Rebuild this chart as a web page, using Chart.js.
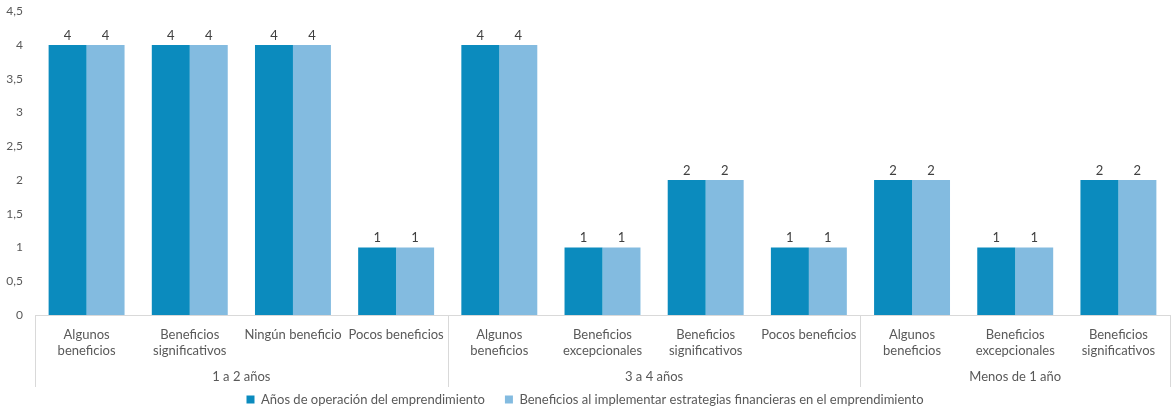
<!DOCTYPE html>
<html lang="es">
<head>
<meta charset="UTF-8">
<title>Años de operación y beneficios</title>
<style>
    html, body { margin: 0; padding: 0; background: #fff; }
    #wrap { width: 1172px; height: 408px; position: relative; }
</style>
</head>
<body>
<div id="wrap"><canvas id="chart"></canvas></div>
<script src="https://cdn.jsdelivr.net/npm/chart.js"></script>
<script>
// categories (two lines each) and their outer groups
const categories = [
    ['Algunos', 'beneficios'], ['Beneficios', 'significativos'], 'Ningún beneficio', 'Pocos beneficios',
    ['Algunos', 'beneficios'], ['Beneficios', 'excepcionales'], ['Beneficios', 'significativos'], 'Pocos beneficios',
    ['Algunos', 'beneficios'], ['Beneficios', 'excepcionales'], ['Beneficios', 'significativos']
];
const groups = ['1 a 2 años', '3 a 4 años', 'Menos de 1 año'];
const groupSizes = [4, 4, 3];

const seriesNames = [
    'Años de operación del emprendimiento',
    'Beneficios al implementar estrategias financieras en el emprendimiento'
];
const operacion = [4, 4, 4, 1, 4, 1, 2, 1, 2, 1, 2];
const beneficios = [4, 4, 4, 1, 4, 1, 2, 1, 2, 1, 2];

const yTicks = [0, 0.5, 1, 1.5, 2, 2.5, 3, 3.5, 4, 4.5];

const textColor = '#595959';
const lineColor = '#D9D9D9';
const fontFamily = 'Lato, "Noto Sans", sans-serif';

// value labels above each bar
const barLabels = {
    id: 'barLabels',
    afterDatasetsDraw(chart) {
        const ctx = chart.ctx;
        ctx.save();
        ctx.fillStyle = '#404040';
        ctx.font = '13px ' + fontFamily;
        ctx.textAlign = 'center';
        ctx.textBaseline = 'bottom';
        chart.data.datasets.forEach((ds, i) => {
            chart.getDatasetMeta(i).data.forEach((bar, j) => {
                ctx.fillText(String(ds.data[j]), bar.x, bar.y - 3);
            });
        });
        ctx.restore();
    }
};

// group separators and group names under the category labels
const groupAxis = {
    id: 'groupAxis',
    afterDraw(chart) {
        const ctx = chart.ctx;
        const x = chart.scales.x;
        const area = chart.chartArea;
        const top = area.bottom;
        const bottom = top + 72;
        ctx.save();
        ctx.strokeStyle = lineColor;
        ctx.lineWidth = 1;
        ctx.fillStyle = textColor;
        ctx.font = '13px ' + fontFamily;
        ctx.textAlign = 'center';
        ctx.textBaseline = 'middle';

        let start = 0;
        const edges = [area.left];
        groups.forEach((g, i) => {
            const end = start + groupSizes[i] - 1;
            const right = end === categories.length - 1
                ? area.right
                : (x.getPixelForValue(end) + x.getPixelForValue(end + 1)) / 2;
            const left = edges[edges.length - 1];
            edges.push(right);
            ctx.fillText(g, (left + right) / 2, top + 62);
            start = end + 1;
        });
        edges.forEach(e => {
            const px = Math.round(e) + 0.5;
            ctx.beginPath();
            ctx.moveTo(px, top);
            ctx.lineTo(px, bottom);
            ctx.stroke();
        });
        ctx.restore();
    }
};

new Chart(document.getElementById('chart'), {
    type: 'bar',
    data: {
        labels: categories,
        datasets: [
            { label: seriesNames[0], data: operacion, backgroundColor: '#0B8BBE' },
            { label: seriesNames[1], data: beneficios, backgroundColor: '#83BBE0' }
        ]
    },
    options: {
        responsive: true,
        maintainAspectRatio: false,
        animation: false,
        layout: { padding: { top: 6, right: 2, left: 0, bottom: -8 } },
        datasets: { bar: { categoryPercentage: 0.736, barPercentage: 1 } },
        plugins: {
            legend: {
                position: 'bottom',
                labels: {
                    color: textColor,
                    font: { family: fontFamily, size: 13 },
                    boxWidth: 8,
                    boxHeight: 8,
                    padding: 20
                }
            },
            tooltip: { enabled: false }
        },
        scales: {
            x: {
                grid: { display: false },
                border: { display: true, color: lineColor },
                ticks: {
                    color: textColor,
                    font: { family: fontFamily, size: 13 },
                    padding: 4,
                    maxRotation: 0,
                    autoSkip: false
                },
                afterFit(scale) { scale.height = 58; }
            },
            y: {
                min: 0,
                max: 4.5,
                grid: { display: false },
                border: { display: false },
                afterBuildTicks(scale) { scale.ticks = yTicks.map(v => ({ value: v })); },
                ticks: {
                    color: textColor,
                    font: { family: fontFamily, size: 12 },
                    padding: 4,
                    callback: v => String(v).replace('.', ',')
                },
                afterFit(scale) { scale.width = 35; }
            }
        }
    },
    plugins: [barLabels, groupAxis]
});
</script>
</body>
</html>
